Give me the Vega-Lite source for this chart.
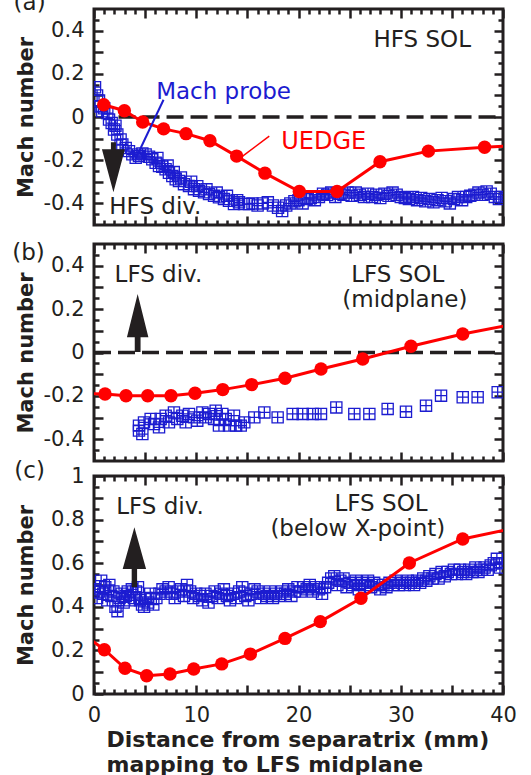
{
  "$schema": "https://vega.github.io/schema/vega-lite/v6.json",
  "padding": {"left": 10, "top": -10, "right": 0, "bottom": 0},
  "spacing": -6,
  "config": {
    "view": {"stroke": "#231f20", "strokeWidth": 3},
    "font": "DejaVu Sans",
    "axis": {
      "domain": false, "grid": false, "tickColor": "#231f20", "tickWidth": 2.5,
      "labelFont": "DejaVu Sans", "labelFontSize": 21, "labelColor": "#231f20",
      "titleFont": "DejaVu Sans", "titleFontSize": 21, "titleFontWeight": "bold", "titleColor": "#231f20",
      "labelOverlap": false, "labelBound": false, "labelFlush": false
    }
  },
  "datasets": {
    "zeroA": [{"x0": 2.4, "x1": 40, "y": 0}],
    "zeroB": [{"x0": 0, "x1": 40, "y": 0}],
    "leaderProbe": [{"x": 6.8, "y": 0.08, "x2": 4.0, "y2": -0.2}],
    "leaderUedge": [{"x": 17.14, "y": -0.089, "x2": 14.54, "y2": -0.181}],
    "arrowA": [{"x": 1.9, "y": -0.233}],
    "arrowB": [{"x": 4.27, "y": 0.136}],
    "arrowC": [{"x": 3.95, "y": 0.627}],
    "textA": [{"x": 32.1, "y": 0.322, "t": "HFS SOL"}, {"x": 6.0, "y": -0.449, "t": "HFS div."}, {"x": -6.3, "y": 0.495, "t": "(a)"}],
    "textAblue": [{"x": 12.67, "y": 0.083, "t": "Mach probe"}],
    "textAred": [{"x": 22.46, "y": -0.15, "t": "UEDGE"}],
    "textB": [{"x": 6.3, "y": 0.323, "t": "LFS div."}, {"x": 29.7, "y": 0.323, "t": "LFS SOL"}, {"x": 30.4, "y": 0.208, "t": "(midplane)"}, {"x": -6.4, "y": 0.426, "t": "(b)"}],
    "textC": [{"x": 6.46, "y": 0.826, "t": "LFS div."}, {"x": 28.07, "y": 0.841, "t": "LFS SOL"}, {"x": 25.8, "y": 0.726, "t": "(below X-point)"}, {"x": -6.3, "y": 0.99, "t": "(c)"}],
    "uedgeA": [{"x": 0.95, "y": 0.057}, {"x": 2.97, "y": 0.029}, {"x": 4.76, "y": -0.023}, {"x": 6.81, "y": -0.055}, {"x": 9.0, "y": -0.077}, {"x": 11.34, "y": -0.11}, {"x": 13.95, "y": -0.181}, {"x": 16.72, "y": -0.26}, {"x": 20.08, "y": -0.345}, {"x": 23.77, "y": -0.345}, {"x": 27.97, "y": -0.207}, {"x": 32.7, "y": -0.158}, {"x": 38.2, "y": -0.14}, {"x": 43.5, "y": -0.125}],
    "uedgeB": [{"x": -1.5, "y": -0.19}, {"x": 1.08, "y": -0.191}, {"x": 3.13, "y": -0.199}, {"x": 5.25, "y": -0.199}, {"x": 7.53, "y": -0.199}, {"x": 9.88, "y": -0.188}, {"x": 12.59, "y": -0.171}, {"x": 15.42, "y": -0.148}, {"x": 18.68, "y": -0.119}, {"x": 22.2, "y": -0.076}, {"x": 26.28, "y": -0.03}, {"x": 31.0, "y": 0.029}, {"x": 36.06, "y": 0.085}, {"x": 41.5, "y": 0.135}],
    "uedgeC": [{"x": -1.2, "y": 0.28}, {"x": 1.01, "y": 0.203}, {"x": 3.03, "y": 0.118}, {"x": 5.15, "y": 0.084}, {"x": 7.43, "y": 0.092}, {"x": 9.75, "y": 0.115}, {"x": 12.49, "y": 0.138}, {"x": 15.29, "y": 0.183}, {"x": 18.68, "y": 0.255}, {"x": 22.13, "y": 0.332}, {"x": 26.11, "y": 0.439}, {"x": 30.84, "y": 0.601}, {"x": 36.06, "y": 0.711}, {"x": 42, "y": 0.77}],
    "probeA": [{"x": 0.1, "y": 0.138}, {"x": 0.3, "y": 0.1}, {"x": 0.49, "y": 0.076}, {"x": 0.65, "y": 0.049}, {"x": 0.81, "y": 0.026}, {"x": 1.0, "y": 0.04}, {"x": 1.3, "y": 0.018}, {"x": 1.47, "y": -0.012}, {"x": 1.73, "y": -0.028}, {"x": 1.96, "y": -0.058}, {"x": 2.1, "y": -0.04}, {"x": 2.28, "y": -0.081}, {"x": 2.6, "y": -0.104}, {"x": 2.77, "y": -0.127}, {"x": 3.1, "y": -0.143}, {"x": 3.42, "y": -0.158}, {"x": 3.75, "y": -0.173}, {"x": 4.08, "y": -0.189}, {"x": 4.4, "y": -0.181}, {"x": 4.73, "y": -0.169}, {"x": 5.05, "y": -0.173}, {"x": 5.38, "y": -0.184}, {"x": 5.7, "y": -0.196}, {"x": 6.03, "y": -0.212}, {"x": 6.2, "y": -0.19}, {"x": 6.36, "y": -0.227}, {"x": 6.68, "y": -0.23}, {"x": 7.0, "y": -0.242}, {"x": 7.2, "y": -0.225}, {"x": 7.33, "y": -0.258}, {"x": 7.66, "y": -0.273}, {"x": 7.8, "y": -0.255}, {"x": 7.99, "y": -0.288}, {"x": 8.31, "y": -0.296}, {"x": 8.5, "y": -0.28}, {"x": 8.8, "y": -0.311}, {"x": 9.29, "y": -0.319}, {"x": 9.5, "y": -0.3}, {"x": 9.78, "y": -0.334}, {"x": 10.1, "y": -0.32}, {"x": 10.27, "y": -0.342}, {"x": 10.76, "y": -0.349}, {"x": 11.0, "y": -0.335}, {"x": 11.25, "y": -0.357}, {"x": 11.74, "y": -0.365}, {"x": 12.0, "y": -0.35}, {"x": 12.22, "y": -0.372}, {"x": 12.71, "y": -0.38}, {"x": 13.0, "y": -0.365}, {"x": 13.2, "y": -0.388}, {"x": 13.69, "y": -0.403}, {"x": 14.0, "y": -0.385}, {"x": 14.18, "y": -0.395}, {"x": 14.67, "y": -0.403}, {"x": 15.16, "y": -0.403}, {"x": 15.5, "y": -0.4}, {"x": 16.0, "y": -0.41}, {"x": 16.5, "y": -0.4}, {"x": 17.0, "y": -0.395}, {"x": 17.5, "y": -0.41}, {"x": 18.0, "y": -0.42}, {"x": 18.4, "y": -0.435}, {"x": 18.8, "y": -0.41}, {"x": 19.2, "y": -0.4}, {"x": 19.6, "y": -0.39}, {"x": 20.0, "y": -0.385}, {"x": 20.4, "y": -0.4}, {"x": 20.8, "y": -0.38}, {"x": 21.2, "y": -0.375}, {"x": 21.6, "y": -0.385}, {"x": 22.0, "y": -0.37}, {"x": 22.4, "y": -0.355}, {"x": 22.8, "y": -0.36}, {"x": 23.2, "y": -0.35}, {"x": 23.6, "y": -0.37}, {"x": 24.0, "y": -0.355}, {"x": 24.4, "y": -0.36}, {"x": 24.8, "y": -0.35}, {"x": 25.2, "y": -0.365}, {"x": 25.6, "y": -0.35}, {"x": 26.0, "y": -0.36}, {"x": 26.4, "y": -0.37}, {"x": 26.8, "y": -0.355}, {"x": 27.2, "y": -0.37}, {"x": 27.6, "y": -0.36}, {"x": 28.0, "y": -0.375}, {"x": 28.4, "y": -0.355}, {"x": 28.8, "y": -0.365}, {"x": 29.2, "y": -0.35}, {"x": 29.6, "y": -0.36}, {"x": 30.0, "y": -0.37}, {"x": 30.4, "y": -0.375}, {"x": 30.8, "y": -0.38}, {"x": 31.2, "y": -0.37}, {"x": 31.6, "y": -0.385}, {"x": 32.0, "y": -0.375}, {"x": 32.4, "y": -0.39}, {"x": 32.8, "y": -0.38}, {"x": 33.2, "y": -0.395}, {"x": 33.6, "y": -0.385}, {"x": 34.0, "y": -0.375}, {"x": 34.4, "y": -0.39}, {"x": 34.8, "y": -0.4}, {"x": 35.2, "y": -0.38}, {"x": 35.6, "y": -0.37}, {"x": 36.0, "y": -0.385}, {"x": 36.4, "y": -0.37}, {"x": 36.8, "y": -0.365}, {"x": 37.2, "y": -0.36}, {"x": 37.6, "y": -0.35}, {"x": 38.0, "y": -0.36}, {"x": 38.4, "y": -0.345}, {"x": 38.8, "y": -0.355}, {"x": 39.2, "y": -0.37}, {"x": 39.6, "y": -0.38}, {"x": 39.9, "y": -0.37}],
    "probeB": [{"x": 4.4, "y": -0.36}, {"x": 4.73, "y": -0.376}, {"x": 4.4, "y": -0.337}, {"x": 4.89, "y": -0.322}, {"x": 5.54, "y": -0.306}, {"x": 5.87, "y": -0.33}, {"x": 6.36, "y": -0.345}, {"x": 6.52, "y": -0.306}, {"x": 7.01, "y": -0.291}, {"x": 7.33, "y": -0.322}, {"x": 7.82, "y": -0.276}, {"x": 8.15, "y": -0.306}, {"x": 8.64, "y": -0.291}, {"x": 8.97, "y": -0.322}, {"x": 9.29, "y": -0.283}, {"x": 9.78, "y": -0.299}, {"x": 10.1, "y": -0.314}, {"x": 10.6, "y": -0.276}, {"x": 10.92, "y": -0.299}, {"x": 11.25, "y": -0.283}, {"x": 11.74, "y": -0.306}, {"x": 11.9, "y": -0.268}, {"x": 12.22, "y": -0.337}, {"x": 12.55, "y": -0.283}, {"x": 12.88, "y": -0.306}, {"x": 13.2, "y": -0.337}, {"x": 13.69, "y": -0.291}, {"x": 13.9, "y": -0.337}, {"x": 14.35, "y": -0.337}, {"x": 14.7, "y": -0.322}, {"x": 15.68, "y": -0.299}, {"x": 16.66, "y": -0.276}, {"x": 17.96, "y": -0.299}, {"x": 19.43, "y": -0.283}, {"x": 20.41, "y": -0.283}, {"x": 21.39, "y": -0.283}, {"x": 22.2, "y": -0.283}, {"x": 23.7, "y": -0.253}, {"x": 25.46, "y": -0.283}, {"x": 26.93, "y": -0.283}, {"x": 28.72, "y": -0.26}, {"x": 30.51, "y": -0.273}, {"x": 32.47, "y": -0.245}, {"x": 33.94, "y": -0.199}, {"x": 36.06, "y": -0.206}, {"x": 37.52, "y": -0.206}, {"x": 39.48, "y": -0.183}],
    "probeC": [{"x": 0.1, "y": 0.48}, {"x": 0.3, "y": 0.44}, {"x": 0.5, "y": 0.47}, {"x": 0.7, "y": 0.52}, {"x": 0.9, "y": 0.46}, {"x": 1.1, "y": 0.49}, {"x": 1.3, "y": 0.43}, {"x": 1.5, "y": 0.5}, {"x": 1.7, "y": 0.45}, {"x": 1.9, "y": 0.47}, {"x": 2.1, "y": 0.4}, {"x": 2.3, "y": 0.38}, {"x": 2.5, "y": 0.44}, {"x": 2.7, "y": 0.46}, {"x": 2.9, "y": 0.42}, {"x": 3.1, "y": 0.45}, {"x": 3.3, "y": 0.47}, {"x": 3.5, "y": 0.43}, {"x": 3.7, "y": 0.48}, {"x": 3.9, "y": 0.44}, {"x": 4.1, "y": 0.47}, {"x": 4.3, "y": 0.49}, {"x": 4.5, "y": 0.43}, {"x": 4.7, "y": 0.41}, {"x": 4.9, "y": 0.4}, {"x": 5.1, "y": 0.44}, {"x": 5.3, "y": 0.42}, {"x": 5.5, "y": 0.46}, {"x": 5.8, "y": 0.41}, {"x": 6.1, "y": 0.44}, {"x": 6.4, "y": 0.46}, {"x": 6.7, "y": 0.48}, {"x": 7.0, "y": 0.47}, {"x": 7.3, "y": 0.49}, {"x": 7.6, "y": 0.46}, {"x": 7.9, "y": 0.44}, {"x": 8.2, "y": 0.47}, {"x": 8.5, "y": 0.48}, {"x": 8.8, "y": 0.45}, {"x": 9.1, "y": 0.5}, {"x": 9.4, "y": 0.47}, {"x": 9.7, "y": 0.44}, {"x": 10.0, "y": 0.46}, {"x": 10.3, "y": 0.45}, {"x": 10.6, "y": 0.43}, {"x": 10.9, "y": 0.46}, {"x": 11.2, "y": 0.42}, {"x": 11.5, "y": 0.45}, {"x": 11.8, "y": 0.47}, {"x": 12.1, "y": 0.44}, {"x": 12.4, "y": 0.46}, {"x": 12.7, "y": 0.48}, {"x": 13.0, "y": 0.45}, {"x": 13.3, "y": 0.43}, {"x": 13.6, "y": 0.46}, {"x": 13.9, "y": 0.44}, {"x": 14.2, "y": 0.47}, {"x": 14.5, "y": 0.49}, {"x": 14.8, "y": 0.45}, {"x": 15.1, "y": 0.43}, {"x": 15.4, "y": 0.46}, {"x": 15.7, "y": 0.48}, {"x": 16.0, "y": 0.47}, {"x": 16.3, "y": 0.44}, {"x": 16.6, "y": 0.46}, {"x": 16.9, "y": 0.45}, {"x": 17.2, "y": 0.47}, {"x": 17.5, "y": 0.44}, {"x": 17.8, "y": 0.46}, {"x": 18.1, "y": 0.45}, {"x": 18.4, "y": 0.47}, {"x": 18.7, "y": 0.46}, {"x": 19.0, "y": 0.48}, {"x": 19.3, "y": 0.45}, {"x": 19.6, "y": 0.47}, {"x": 19.9, "y": 0.49}, {"x": 20.2, "y": 0.47}, {"x": 20.5, "y": 0.49}, {"x": 20.8, "y": 0.48}, {"x": 21.1, "y": 0.5}, {"x": 21.4, "y": 0.47}, {"x": 21.7, "y": 0.49}, {"x": 22.0, "y": 0.48}, {"x": 22.3, "y": 0.46}, {"x": 22.6, "y": 0.49}, {"x": 22.9, "y": 0.51}, {"x": 23.2, "y": 0.53}, {"x": 23.5, "y": 0.54}, {"x": 23.8, "y": 0.5}, {"x": 24.1, "y": 0.52}, {"x": 24.4, "y": 0.53}, {"x": 24.7, "y": 0.49}, {"x": 25.0, "y": 0.51}, {"x": 25.3, "y": 0.5}, {"x": 25.6, "y": 0.52}, {"x": 25.9, "y": 0.48}, {"x": 26.2, "y": 0.51}, {"x": 26.5, "y": 0.5}, {"x": 26.8, "y": 0.52}, {"x": 27.1, "y": 0.49}, {"x": 27.4, "y": 0.51}, {"x": 27.7, "y": 0.5}, {"x": 28.0, "y": 0.48}, {"x": 28.3, "y": 0.5}, {"x": 28.6, "y": 0.49}, {"x": 28.9, "y": 0.51}, {"x": 29.2, "y": 0.5}, {"x": 29.5, "y": 0.52}, {"x": 29.8, "y": 0.5}, {"x": 30.1, "y": 0.51}, {"x": 30.4, "y": 0.5}, {"x": 30.7, "y": 0.52}, {"x": 31.0, "y": 0.51}, {"x": 31.3, "y": 0.5}, {"x": 31.6, "y": 0.52}, {"x": 31.9, "y": 0.51}, {"x": 32.2, "y": 0.53}, {"x": 32.5, "y": 0.52}, {"x": 32.8, "y": 0.54}, {"x": 33.1, "y": 0.53}, {"x": 33.4, "y": 0.55}, {"x": 33.7, "y": 0.53}, {"x": 34.0, "y": 0.56}, {"x": 34.3, "y": 0.54}, {"x": 34.6, "y": 0.56}, {"x": 34.9, "y": 0.55}, {"x": 35.2, "y": 0.57}, {"x": 35.5, "y": 0.55}, {"x": 35.8, "y": 0.57}, {"x": 36.1, "y": 0.56}, {"x": 36.4, "y": 0.55}, {"x": 36.7, "y": 0.57}, {"x": 37.0, "y": 0.56}, {"x": 37.3, "y": 0.58}, {"x": 37.6, "y": 0.56}, {"x": 37.9, "y": 0.57}, {"x": 38.2, "y": 0.58}, {"x": 38.5, "y": 0.57}, {"x": 38.8, "y": 0.59}, {"x": 39.1, "y": 0.6}, {"x": 39.4, "y": 0.62}, {"x": 39.7, "y": 0.58}, {"x": 39.9, "y": 0.6}]
  },
  "vconcat": [
    {
      "spacing": 12,
      "vconcat": [
        {
          "width": 409, "height": 216,
          "resolve": {"axis": {"x": "independent", "y": "independent"}},
          "layer": [
            {"data": {"name": "zeroA"}, "mark": {"type": "rule", "strokeDash": [17, 7], "strokeWidth": 3.5, "color": "#231f20"},
             "encoding": {"x": {"field": "x0", "type": "quantitative", "scale": {"domain": [0, 40], "nice": false, "zero": false}, "axis": null}, "x2": {"field": "x1"}, "y": {"field": "y", "type": "quantitative", "scale": {"domain": [-0.5, 0.5], "nice": false, "zero": false}, "axis": null}}},
            {"data": {"name": "probeA"}, "mark": {"type": "point", "shape": "M-1,-1H1V1H-1ZM0,-1V1M-1,0H1", "size": 125, "filled": false, "color": "#1c1cd0", "strokeWidth": 1.3, "opacity": 1, "clip": true},
             "encoding": {
               "x": {"field": "x", "type": "quantitative", "scale": {"domain": [0, 40], "nice": false, "zero": false}, "axis": {"orient": "top", "values": [0,1,2,3,4,5,6,7,8,9,10,11,12,13,14,15,16,17,18,19,20,21,22,23,24,25,26,27,28,29,30,31,32,33,34,35,36,37,38,39,40], "labels": false, "title": null, "minExtent": 0, "maxExtent": 0, "tickSize": {"condition": {"test": "datum.value % 5 === 0", "value": -9}, "value": -5}}},
               "y": {"field": "y", "type": "quantitative", "scale": {"domain": [-0.5, 0.5], "nice": false, "zero": false}, "axis": {"orient": "right", "values": [-0.45,-0.4,-0.35,-0.3,-0.25,-0.2,-0.15,-0.1,-0.05,0,0.05,0.1,0.15,0.2,0.25,0.3,0.35,0.4,0.45], "labels": false, "title": null, "minExtent": 0, "maxExtent": 0, "tickSize": {"condition": {"test": "round(datum.value*20) % 2 === 0", "value": -9}, "value": -5}}}}},
            {"data": {"name": "uedgeA"}, "mark": {"type": "line", "color": "#ff0000", "strokeWidth": 3, "clip": true},
             "encoding": {
               "x": {"field": "x", "type": "quantitative", "scale": {"domain": [0, 40], "nice": false, "zero": false}, "axis": {"orient": "bottom", "values": [0,1,2,3,4,5,6,7,8,9,10,11,12,13,14,15,16,17,18,19,20,21,22,23,24,25,26,27,28,29,30,31,32,33,34,35,36,37,38,39,40], "labels": false, "title": null, "minExtent": 0, "maxExtent": 0, "tickSize": {"condition": {"test": "datum.value % 5 === 0", "value": -9}, "value": -5}}},
               "y": {"field": "y", "type": "quantitative", "scale": {"domain": [-0.5, 0.5], "nice": false, "zero": false}, "axis": {"orient": "left", "values": [-0.45,-0.4,-0.35,-0.3,-0.25,-0.2,-0.15,-0.1,-0.05,0,0.05,0.1,0.15,0.2,0.25,0.3,0.35,0.4,0.45], "labelExpr": "indexof([-0.4,-0.2,0,0.2,0.4], datum.value) >= 0 ? '' + datum.value : ''", "labelPadding": 19, "title": "Mach number", "titlePadding": 6, "minExtent": 52, "maxExtent": 52, "tickSize": {"condition": {"test": "round(datum.value*20) % 2 === 0", "value": -9}, "value": -5}}}}},
            {"data": {"name": "uedgeA"}, "mark": {"type": "circle", "size": 180, "color": "#ff0000", "opacity": 1, "clip": true},
             "encoding": {"x": {"field": "x", "type": "quantitative", "axis": null}, "y": {"field": "y", "type": "quantitative", "axis": null}}},
            {"data": {"name": "leaderProbe"}, "mark": {"type": "rule", "color": "#1c1cd0", "strokeWidth": 2},
             "encoding": {"x": {"field": "x", "type": "quantitative", "axis": null}, "x2": {"field": "x2"}, "y": {"field": "y", "type": "quantitative", "axis": null}, "y2": {"field": "y2"}}},
            {"data": {"name": "leaderUedge"}, "mark": {"type": "rule", "color": "#ff0000", "strokeWidth": 1.5},
             "encoding": {"x": {"field": "x", "type": "quantitative", "axis": null}, "x2": {"field": "x2"}, "y": {"field": "y", "type": "quantitative", "axis": null}, "y2": {"field": "y2"}}},
            {"data": {"name": "arrowA"}, "mark": {"type": "point", "shape": "M-0.1,-1H0.1V-0.72H0.46L0,1L-0.46,-0.72H-0.1Z", "size": 2500, "filled": true, "color": "#231f20", "opacity": 1, "strokeWidth": 0},
             "encoding": {"x": {"field": "x", "type": "quantitative", "axis": null}, "y": {"field": "y", "type": "quantitative", "axis": null}}},
            {"data": {"name": "textA"}, "mark": {"type": "text", "font": "DejaVu Sans", "fontSize": 23, "color": "#231f20", "align": "center", "baseline": "alphabetic"},
             "encoding": {"x": {"field": "x", "type": "quantitative", "axis": null}, "y": {"field": "y", "type": "quantitative", "axis": null}, "text": {"field": "t"}}},
            {"data": {"name": "textAblue"}, "mark": {"type": "text", "font": "DejaVu Sans", "fontSize": 23, "color": "#1c1cd0", "align": "center", "baseline": "alphabetic"},
             "encoding": {"x": {"field": "x", "type": "quantitative", "axis": null}, "y": {"field": "y", "type": "quantitative", "axis": null}, "text": {"field": "t"}}},
            {"data": {"name": "textAred"}, "mark": {"type": "text", "font": "DejaVu Sans", "fontSize": 24, "color": "#ff0000", "align": "center", "baseline": "alphabetic"},
             "encoding": {"x": {"field": "x", "type": "quantitative", "axis": null}, "y": {"field": "y", "type": "quantitative", "axis": null}, "text": {"field": "t"}}}
          ]
        },
        {
          "width": 409, "height": 217,
          "resolve": {"axis": {"x": "independent", "y": "independent"}},
          "layer": [
            {"data": {"name": "zeroB"}, "mark": {"type": "rule", "strokeDash": [17, 7], "strokeWidth": 3.5, "color": "#231f20"},
             "encoding": {"x": {"field": "x0", "type": "quantitative", "scale": {"domain": [0, 40], "nice": false, "zero": false}, "axis": null}, "x2": {"field": "x1"}, "y": {"field": "y", "type": "quantitative", "scale": {"domain": [-0.5, 0.5], "nice": false, "zero": false}, "axis": null}}},
            {"data": {"name": "probeB"}, "mark": {"type": "point", "shape": "M-1,-1H1V1H-1ZM0,-1V1M-1,0H1", "size": 125, "filled": false, "color": "#1c1cd0", "strokeWidth": 1.3, "opacity": 1, "clip": true},
             "encoding": {
               "x": {"field": "x", "type": "quantitative", "scale": {"domain": [0, 40], "nice": false, "zero": false}, "axis": {"orient": "top", "values": [0,1,2,3,4,5,6,7,8,9,10,11,12,13,14,15,16,17,18,19,20,21,22,23,24,25,26,27,28,29,30,31,32,33,34,35,36,37,38,39,40], "labels": false, "title": null, "minExtent": 0, "maxExtent": 0, "tickSize": {"condition": {"test": "datum.value % 5 === 0", "value": -9}, "value": -5}}},
               "y": {"field": "y", "type": "quantitative", "scale": {"domain": [-0.5, 0.5], "nice": false, "zero": false}, "axis": {"orient": "right", "values": [-0.45,-0.4,-0.35,-0.3,-0.25,-0.2,-0.15,-0.1,-0.05,0,0.05,0.1,0.15,0.2,0.25,0.3,0.35,0.4,0.45], "labels": false, "title": null, "minExtent": 0, "maxExtent": 0, "tickSize": {"condition": {"test": "round(datum.value*20) % 2 === 0", "value": -9}, "value": -5}}}}},
            {"data": {"name": "uedgeB"}, "mark": {"type": "line", "color": "#ff0000", "strokeWidth": 3, "clip": true},
             "encoding": {
               "x": {"field": "x", "type": "quantitative", "scale": {"domain": [0, 40], "nice": false, "zero": false}, "axis": {"orient": "bottom", "values": [0,1,2,3,4,5,6,7,8,9,10,11,12,13,14,15,16,17,18,19,20,21,22,23,24,25,26,27,28,29,30,31,32,33,34,35,36,37,38,39,40], "labels": false, "title": null, "minExtent": 0, "maxExtent": 0, "tickSize": {"condition": {"test": "datum.value % 5 === 0", "value": -9}, "value": -5}}},
               "y": {"field": "y", "type": "quantitative", "scale": {"domain": [-0.5, 0.5], "nice": false, "zero": false}, "axis": {"orient": "left", "values": [-0.45,-0.4,-0.35,-0.3,-0.25,-0.2,-0.15,-0.1,-0.05,0,0.05,0.1,0.15,0.2,0.25,0.3,0.35,0.4,0.45], "labelExpr": "indexof([-0.4,-0.2,0,0.2,0.4], datum.value) >= 0 ? '' + datum.value : ''", "labelPadding": 19, "title": "Mach number", "titlePadding": 6, "minExtent": 52, "maxExtent": 52, "tickSize": {"condition": {"test": "round(datum.value*20) % 2 === 0", "value": -9}, "value": -5}}}}},
            {"data": {"name": "uedgeB"}, "mark": {"type": "circle", "size": 180, "color": "#ff0000", "opacity": 1, "clip": true},
             "encoding": {"x": {"field": "x", "type": "quantitative", "axis": null}, "y": {"field": "y", "type": "quantitative", "axis": null}}},
            {"data": {"name": "arrowB"}, "mark": {"type": "point", "shape": "M0,-1L0.37,0.49H0.1V1H-0.1V0.49H-0.37Z", "size": 3364, "filled": true, "color": "#231f20", "opacity": 1, "strokeWidth": 0},
             "encoding": {"x": {"field": "x", "type": "quantitative", "axis": null}, "y": {"field": "y", "type": "quantitative", "axis": null}}},
            {"data": {"name": "textB"}, "mark": {"type": "text", "font": "DejaVu Sans", "fontSize": 23, "color": "#231f20", "align": "center", "baseline": "alphabetic"},
             "encoding": {"x": {"field": "x", "type": "quantitative", "axis": null}, "y": {"field": "y", "type": "quantitative", "axis": null}, "text": {"field": "t"}}}
          ]
        }
      ]
    },
    {
      "width": 409, "height": 218,
      "resolve": {"axis": {"x": "independent", "y": "independent"}},
      "layer": [
        {"data": {"name": "probeC"}, "mark": {"type": "point", "shape": "M-1,-1H1V1H-1ZM0,-1V1M-1,0H1", "size": 125, "filled": false, "color": "#1c1cd0", "strokeWidth": 1.3, "opacity": 1, "clip": true},
         "encoding": {
           "x": {"field": "x", "type": "quantitative", "scale": {"domain": [0, 40], "nice": false, "zero": false}, "axis": {"orient": "top", "values": [0,1,2,3,4,5,6,7,8,9,10,11,12,13,14,15,16,17,18,19,20,21,22,23,24,25,26,27,28,29,30,31,32,33,34,35,36,37,38,39,40], "labels": false, "title": null, "minExtent": 0, "maxExtent": 0, "tickSize": {"condition": {"test": "datum.value % 5 === 0", "value": -9}, "value": -5}}},
           "y": {"field": "y", "type": "quantitative", "scale": {"domain": [0, 1], "nice": false, "zero": false}, "axis": {"orient": "right", "values": [0.05,0.1,0.15,0.2,0.25,0.3,0.35,0.4,0.45,0.5,0.55,0.6,0.65,0.7,0.75,0.8,0.85,0.9,0.95], "labels": false, "title": null, "minExtent": 0, "maxExtent": 0, "tickSize": {"condition": {"test": "round(datum.value*20) % 2 === 0", "value": -9}, "value": -5}}}}},
        {"data": {"name": "uedgeC"}, "mark": {"type": "line", "color": "#ff0000", "strokeWidth": 3, "clip": true},
         "encoding": {
           "x": {"field": "x", "type": "quantitative", "scale": {"domain": [0, 40], "nice": false, "zero": false}, "axis": {"orient": "bottom", "values": [0,1,2,3,4,5,6,7,8,9,10,11,12,13,14,15,16,17,18,19,20,21,22,23,24,25,26,27,28,29,30,31,32,33,34,35,36,37,38,39,40], "labelExpr": "datum.value % 10 === 0 ? '' + datum.value : ''", "labelPadding": 19, "title": ["Distance from separatrix (mm)", "mapping to LFS midplane"], "titleFontSize": 22, "titleAnchor": "start", "titleAlign": "left", "titleX": 12, "titlePadding": 0, "titleLineHeight": 25, "tickSize": {"condition": {"test": "datum.value % 5 === 0", "value": -9}, "value": -5}}},
           "y": {"field": "y", "type": "quantitative", "scale": {"domain": [0, 1], "nice": false, "zero": false}, "axis": {"orient": "left", "values": [0,0.05,0.1,0.15,0.2,0.25,0.3,0.35,0.4,0.45,0.5,0.55,0.6,0.65,0.7,0.75,0.8,0.85,0.9,0.95,1], "labelExpr": "indexof([0,0.2,0.4,0.6,0.8,1], datum.value) >= 0 ? '' + datum.value : ''", "labelPadding": 19, "title": "Mach number", "titlePadding": 6, "minExtent": 52, "maxExtent": 52, "tickSize": {"condition": {"test": "round(datum.value*20) % 2 === 0", "value": -9}, "value": -5}}}}},
        {"data": {"name": "uedgeC"}, "mark": {"type": "circle", "size": 180, "color": "#ff0000", "opacity": 1, "clip": true},
         "encoding": {"x": {"field": "x", "type": "quantitative", "axis": null}, "y": {"field": "y", "type": "quantitative", "axis": null}}},
        {"data": {"name": "arrowC"}, "mark": {"type": "point", "shape": "M0,-1L0.39,0.39H0.09V1H-0.09V0.39H-0.39Z", "size": 3600, "filled": true, "color": "#231f20", "opacity": 1, "strokeWidth": 0},
         "encoding": {"x": {"field": "x", "type": "quantitative", "axis": null}, "y": {"field": "y", "type": "quantitative", "axis": null}}},
        {"data": {"name": "textC"}, "mark": {"type": "text", "font": "DejaVu Sans", "fontSize": 23, "color": "#231f20", "align": "center", "baseline": "alphabetic"},
         "encoding": {"x": {"field": "x", "type": "quantitative", "axis": null}, "y": {"field": "y", "type": "quantitative", "axis": null}, "text": {"field": "t"}}}
      ]
    }
  ]
}
